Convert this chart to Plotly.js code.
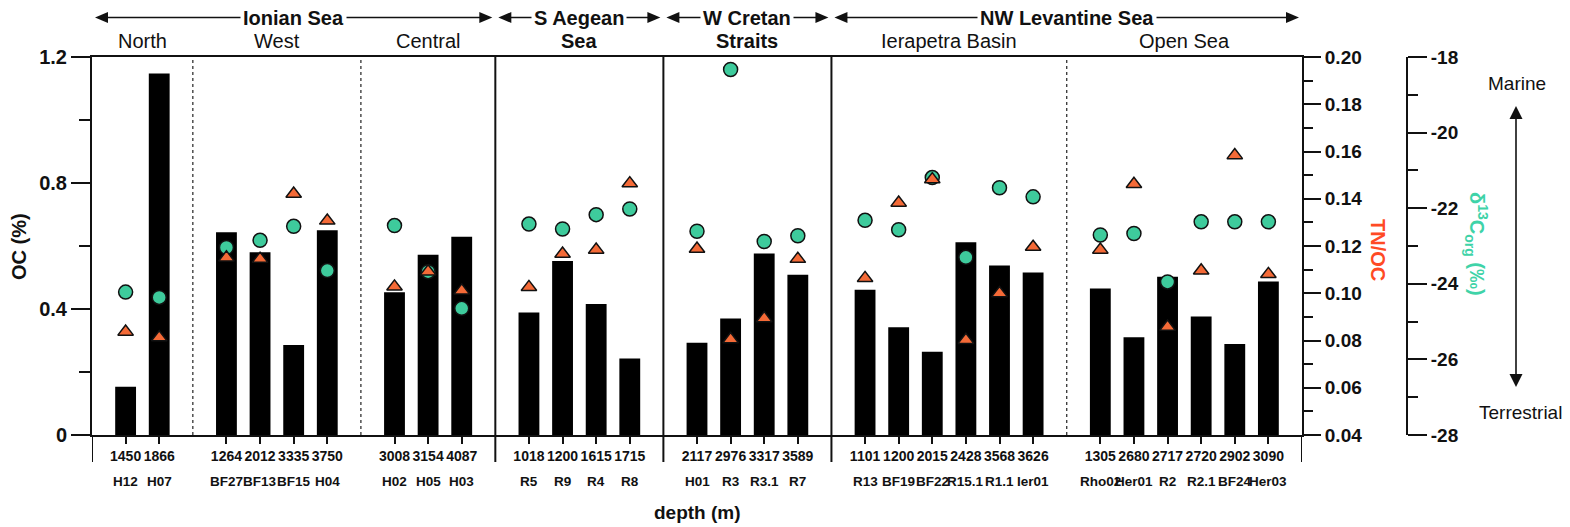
<!DOCTYPE html>
<html><head><meta charset="utf-8">
<script src="https://cdn.plot.ly/plotly-3.0.1.min.js"></script>
<style>html,body{margin:0;padding:0;background:#fff;}</style>
</head><body>
<div id="chart" style="width:1570px;height:527px;"></div>
<script>
// ---------------- data ----------------
const samples = ['H12','H07','BF27','BF13','BF15','H04','H02','H05','H03','R5','R9','R4','R8','H01','R3','R3.1','R7','R13','BF19','BF22','R15.1','R1.1','Ier01','Rho02','Her01','R2','R2.1','BF24','Her03'];
const depths = [1450,1866,1264,2012,3335,3750,3008,3154,4087,1018,1200,1615,1715,2117,2976,3317,3589,1101,1200,2015,2428,3568,3626,1305,2680,2717,2720,2902,3090];
const groupSizes = [2,4,3,4,4,6,6];
const groupLabels = ['North','West','Central','Sea','Straits','Ierapetra Basin','Open Sea'];
const groupLabelBold = [false,false,false,true,true,false,false];
const regionLabels = ['Ionian Sea','S Aegean','W Cretan','NW Levantine Sea'];
const regionGroupCount = [3,1,1,2];
const oc = [0.153,1.148,0.644,0.580,0.286,0.650,0.453,0.572,0.629,0.389,0.552,0.416,0.243,0.293,0.370,0.576,0.509,0.461,0.342,0.264,0.612,0.538,0.516,0.465,0.310,0.502,0.376,0.289,0.487];
const tnoc = [0.0837,0.0813,0.1151,0.1145,0.1421,0.1307,0.1028,0.1092,0.1011,0.1026,0.1167,0.1184,0.1465,0.1188,0.0805,0.0894,0.1145,0.1064,0.1383,0.1482,0.0802,0.1000,0.1196,0.1184,0.1462,0.0858,0.1096,0.1584,0.1081];
const d13c = [-24.22,-24.36,-23.04,-22.85,-22.48,-23.65,-22.46,-23.68,-24.65,-22.42,-22.55,-22.17,-22.02,-22.61,-18.33,-22.88,-22.73,-22.32,-22.57,-21.19,-23.30,-21.46,-21.70,-22.71,-22.67,-23.95,-22.36,-22.36,-22.36];
const ocTicks = [0,0.4,0.8,1.2];
const tnocTicks = [0.04,0.06,0.08,0.10,0.12,0.14,0.16,0.18,0.20];
const d13cTicks = [-28,-26,-24,-22,-20,-18];
const d13cMinor = [-27,-25,-23,-21,-19];

// ---------------- layout geometry ----------------
const W=1570, H=527, ML=92, MR=150, MT=57, MB=92;
const PW = W-ML-MR, PH = H-MT-MB;
const plotRightPx = 1302;
const xDomEnd = (plotRightPx-ML)/PW;
const FONT = 'Liberation Sans, Arial, Helvetica, sans-serif';
const RED = '#ff4a24', TEAL = '#3fd3a8';

// slot positions: one empty slot between groups
const pos = [], groupStart = [], groupEnd = [];
let slot = 0;
groupSizes.forEach(n => {
  groupStart.push(slot);
  for (let i=0;i<n;i++){ slot += 1; pos.push(slot); }
  slot += 1;
  groupEnd.push(slot);
});
const nSlots = slot;
const slotPx = (plotRightPx-ML)/nSlots;
const py = p => (H-MB-p)/PH;          // pixel y -> paper y
const pxp = p => (p-ML)/PW;           // pixel x -> paper x

// region spans
const regionSpans = [];
let gi = 0;
regionGroupCount.forEach(c => { regionSpans.push([groupStart[gi], groupEnd[gi+c-1]]); gi += c; });
const regionBounds = regionSpans.map(s => s[1]);

const shapes = [];
const annotations = [];
const black = '#111';
function txt(o){ return Object.assign({showarrow:false, xanchor:'center', yanchor:'middle'}, o); }

// separators
groupEnd.forEach((b) => {
  if (b === nSlots) return;
  const solid = regionBounds.includes(b);
  shapes.push({type:'line', xref:'x', yref:'paper', x0:b, x1:b, y0: solid ? py(462) : 0, y1:1,
    line:{color: solid ? black : '#333', width: solid ? 2 : 1.3, dash: solid ? 'solid' : 'dot'}});
});
[0, nSlots].forEach(b => shapes.push({type:'line', xref:'x', yref:'paper', x0:b, x1:b, y0:py(462), y1:0, line:{color:black, width:2}}));

// header arrows
const hy = py(17.5), headL = 13/slotPx, headH = 5.5/PH, inset = 3/slotPx;
function hArrowHead(tip, dir){
  const bx = tip - dir*headL;
  return {type:'path', xref:'x', yref:'paper', fillcolor:black, line:{width:0},
    path:`M${tip},${hy} L${bx},${hy+headH} L${bx},${hy-headH} Z`};
}
regionSpans.forEach(([a,b]) => {
  const a1 = a + inset, b1 = b - inset;
  shapes.push({type:'line', xref:'x', yref:'paper', x0:a1+headL*0.8, x1:b1-headL*0.8, y0:hy, y1:hy, line:{color:black, width:1.6}});
  shapes.push(hArrowHead(a1, -1));
  shapes.push(hArrowHead(b1, 1));
});

// vertical Marine/Terrestrial arrow
const vx = pxp(1516), vTop = 106, vBot = 387, vHL = 13, vHW = 6.5/PW;
shapes.push({type:'line', xref:'paper', yref:'paper', x0:vx, x1:vx, y0:py(vTop+10), y1:py(vBot-10), line:{color:black, width:1.6}});
shapes.push({type:'path', xref:'paper', yref:'paper', fillcolor:black, line:{width:0},
  path:`M${vx},${py(vTop)} L${vx-vHW},${py(vTop+vHL)} L${vx+vHW},${py(vTop+vHL)} Z`});
shapes.push({type:'path', xref:'paper', yref:'paper', fillcolor:black, line:{width:0},
  path:`M${vx},${py(vBot)} L${vx-vHW},${py(vBot-vHL)} L${vx+vHW},${py(vBot-vHL)} Z`});

// header texts
regionLabels.forEach((t, i) => {
  const [a,b] = regionSpans[i];
  annotations.push(txt({text:t, xref:'x', yref:'paper', x:(a+b)/2, y:hy,
    font:{family:FONT, size:20, weight:700, color:black}, bgcolor:'#fff', borderpad:2}));
});
groupLabels.forEach((t, i) => {
  annotations.push(txt({text:t, xref:'x', yref:'paper', x:(groupStart[i]+groupEnd[i])/2, y:py(41),
    font:{family:FONT, size:20, weight: groupLabelBold[i] ? 700 : 400, color:black}}));
});
// sample names row
samples.forEach((s, i) => {
  annotations.push(txt({text:s, xref:'x', yref:'paper', x:pos[i], y:py(481),
    font:{family:FONT, size:13.5, weight:700, color:black}}));
});
annotations.push(txt({text:'depth (m)', xref:'paper', yref:'paper', x:pxp(ML+(plotRightPx-ML)/2), y:py(512),
  font:{family:FONT, size:19, weight:700, color:black}}));
annotations.push(txt({text:'OC (%)', xref:'paper', yref:'paper', x:pxp(19), y:py(247), textangle:-90,
  font:{family:FONT, size:20, weight:700, color:black}}));
annotations.push(txt({text:'TN/OC', xref:'paper', yref:'paper', x:pxp(1378), y:py(250), textangle:90,
  font:{family:FONT, size:20, weight:700, color:RED}}));
annotations.push(txt({text:'δ<sup>13</sup>C<sub>org</sub> (‰)', xref:'paper', yref:'paper', x:pxp(1476), y:py(244), textangle:90,
  font:{family:FONT, size:20, weight:700, color:TEAL}}));
annotations.push(txt({text:'Marine', xref:'paper', yref:'paper', x:pxp(1517), y:py(83),
  font:{family:FONT, size:19, color:black}}));
annotations.push(txt({text:'Terrestrial', xref:'paper', yref:'paper', x:pxp(1520), y:py(412),
  font:{family:FONT, size:19, color:black}}));

const tickFontL = {family:FONT, size:20, weight:700, color:black};
const tickFontR = {family:FONT, size:19, weight:700, color:black};

const traces = [
  {type:'bar', x:pos, y:oc, width:0.62, marker:{color:'#000', line:{width:0}}, yaxis:'y', hoverinfo:'skip'},
  {type:'scatter', mode:'markers', x:pos, y:d13c, yaxis:'y2', cliponaxis:false,
   marker:{symbol:'circle', size:14, color:'#3ecb9c', line:{color:'#111', width:1.5}}},
  {type:'scatter', mode:'markers', x:pos, y:tnoc, yaxis:'y3', cliponaxis:false,
   marker:{symbol:'triangle-up', size:13.5, color:'#f46a37', line:{color:'#111', width:1.5}}}
];

const layout = {
  width:W, height:H, margin:{l:ML, r:MR, t:MT, b:MB}, showlegend:false,
  paper_bgcolor:'#fff', plot_bgcolor:'rgba(0,0,0,0)',
  font:{family:FONT, color:black},
  xaxis:{domain:[0,xDomEnd], range:[0,nSlots], tickmode:'array', tickvals:pos, ticktext:depths.map(String),
    ticks:'outside', ticklen:7, tickwidth:2, tickcolor:black, showline:true, linewidth:2, linecolor:black, mirror:true,
    showgrid:false, zeroline:false, tickfont:{family:FONT, size:14, weight:700, color:black}, fixedrange:true},
  yaxis:{range:[0,1.2], tickmode:'array', tickvals:ocTicks, ticktext:ocTicks.map(String),
    ticks:'outside', ticklen:19, tickwidth:2, tickcolor:black, showline:true, linewidth:2, linecolor:black,
    minor:{dtick:0.2, tick0:0, ticks:'outside', ticklen:11, tickwidth:2, tickcolor:black, showgrid:false},
    showgrid:false, zeroline:false, tickfont:tickFontL, fixedrange:true},
  yaxis2:{overlaying:'y', side:'right', anchor:'free', position:pxp(1407), range:[-28,-18],
    tickmode:'array', tickvals:d13cTicks, ticktext:d13cTicks.map(String),
    ticks:'outside', ticklen:19, tickwidth:2, tickcolor:black, showline:true, linewidth:2, linecolor:black,
    minor:{tickmode:'array', tickvals:d13cMinor, ticks:'outside', ticklen:10, tickwidth:2, tickcolor:black, showgrid:false},
    showgrid:false, zeroline:false, tickfont:tickFontR, fixedrange:true},
  yaxis3:{overlaying:'y', side:'right', anchor:'x', range:[0.04,0.20],
    tickmode:'array', tickvals:tnocTicks, ticktext:tnocTicks.map(v=>v.toFixed(2)),
    ticks:'outside', ticklen:17, tickwidth:2, tickcolor:black, showline:true, linewidth:2, linecolor:black,
    minor:{dtick:0.01, tick0:0.04, ticks:'outside', ticklen:9, tickwidth:2, tickcolor:black, showgrid:false},
    showgrid:false, zeroline:false, tickfont:tickFontR, fixedrange:true},
  shapes:shapes, annotations:annotations
};
Plotly.newPlot('chart', traces, layout, {displayModeBar:false, staticPlot:true});
</script>
</body></html>
